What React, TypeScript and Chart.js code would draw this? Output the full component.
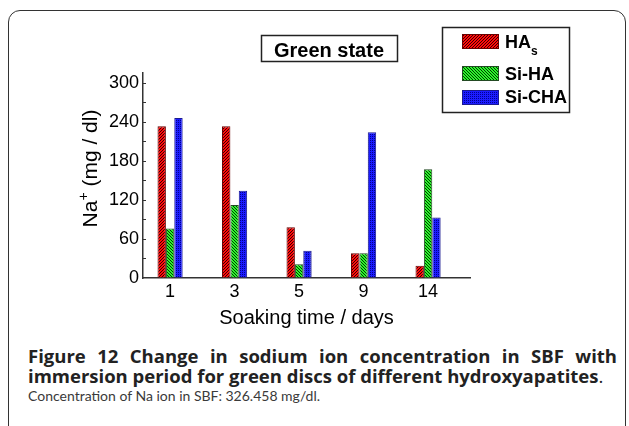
import React, { useEffect, useRef } from "react";
import { Chart, registerables } from "chart.js";

Chart.register(...registerables);

// ---- data ----
const dayLabels = ["1", "3", "5", "9", "14"];
const seriesNames = ["HA", "Si-HA", "Si-CHA"];
const seriesSubscripts = ["s", "", ""];
const haSValues = [233, 233, 78, 38, 19];
const siHAValues = [76, 112, 21, 38, 167];
const siCHAValues = [246, 134, 42, 224, 93];
const yTickValues = [0, 60, 120, 180, 240, 300];
const yMinorStep = 30;
const chartTitle = "Green state";
const yTitleMain = "Na";
const yTitleSup = "+";
const yTitleRest = " (mg / dl)";
const xTitle = "Soaking time / days";

const FONT = "Arial, 'Liberation Sans', 'DejaVu Sans', sans-serif";

function makePattern(bg: string, fg: string, kind: "slash" | "backslash" | "dots") {
  const c = document.createElement("canvas");
  const n = kind === "dots" ? 2 : 3;
  c.width = n;
  c.height = n;
  const g = c.getContext("2d")!;
  g.fillStyle = bg;
  g.fillRect(0, 0, n, n);
  g.fillStyle = fg;
  for (let x = 0; x < n; x++) {
    for (let y = 0; y < n; y++) {
      let on = false;
      if (kind === "slash") on = (x + y) % 3 === 0;
      else if (kind === "backslash") on = (x - y + 3) % 3 === 0;
      else on = x % 2 === 0 && y % 2 === 0;
      if (on) g.fillRect(x, y, 1, 1);
    }
  }
  const ctx = document.createElement("canvas").getContext("2d")!;
  return ctx.createPattern(c, "repeat")!;
}

const decorPlugin = {
  id: "decor",
  afterDraw(chart: any) {
    const ctx = chart.ctx as CanvasRenderingContext2D;
    const yScale = chart.scales.y;
    const area = chart.chartArea;
    ctx.save();

    // inward minor ticks on y axis
    ctx.strokeStyle = "#333";
    ctx.lineWidth = 1;
    for (let v = yMinorStep; v <= yTickValues[yTickValues.length - 1]; v += yMinorStep) {
      const py = Math.round(yScale.getPixelForValue(v)) + 0.5;
      ctx.beginPath();
      ctx.moveTo(area.left, py);
      ctx.lineTo(area.left + 3, py);
      ctx.stroke();
    }

    // y axis title with superscript
    ctx.fillStyle = "#000";
    ctx.translate(96.5, 168.5);
    ctx.rotate(-Math.PI / 2);
    ctx.textBaseline = "alphabetic";
    ctx.font = `21px ${FONT}`;
    const wMain = ctx.measureText(yTitleMain).width;
    ctx.font = `14px ${FONT}`;
    const wSup = ctx.measureText(yTitleSup).width;
    ctx.font = `21px ${FONT}`;
    const wRest = ctx.measureText(yTitleRest).width;
    const x0 = -(wMain + wSup + wRest) / 2;
    ctx.textAlign = "left";
    ctx.fillText(yTitleMain, x0, 0);
    ctx.font = `14px ${FONT}`;
    ctx.fillText(yTitleSup, x0 + wMain, -9);
    ctx.font = `21px ${FONT}`;
    ctx.fillText(yTitleRest, x0 + wMain + wSup, 0);
    ctx.setTransform(1, 0, 0, 1, 0, 0);

    // title box
    ctx.strokeStyle = "#222";
    ctx.lineWidth = 1.5;
    ctx.strokeRect(261.5, 35.5, 136, 26);
    ctx.font = `bold 20px ${FONT}`;
    ctx.textAlign = "center";
    ctx.fillStyle = "#000";
    ctx.fillText(chartTitle, 329, 56.5);

    // legend box
    ctx.strokeRect(442.5, 27.5, 127, 85);
    const swatchTops = [34, 66, 90];
    const baselines = [48, 80, 103];
    chart.data.datasets.forEach((ds: any, i: number) => {
      ctx.fillStyle = ds.backgroundColor;
      ctx.fillRect(462, swatchTops[i], 37, 15);
      ctx.strokeStyle = ds.borderColor;
      ctx.lineWidth = 1;
      ctx.strokeRect(462.5, swatchTops[i] + 0.5, 36, 14);
      ctx.fillStyle = "#000";
      ctx.textAlign = "left";
      ctx.font = `bold 18px ${FONT}`;
      ctx.fillText(seriesNames[i], 505, baselines[i]);
      if (seriesSubscripts[i]) {
        const w = ctx.measureText(seriesNames[i]).width;
        ctx.font = `bold 12px ${FONT}`;
        ctx.fillText(seriesSubscripts[i], 505 + w, baselines[i] + 7);
      }
    });
    ctx.restore();
  },
};

export default function App() {
  const ref = useRef<HTMLCanvasElement>(null);

  useEffect(() => {
    if (!ref.current) return;
    const toPoints = (arr: number[]) => arr.map((v, i) => ({ x: i, y: v }));
    const chart = new Chart(ref.current, {
      type: "bar",
      data: {
        datasets: [
          {
            label: seriesNames[0] + seriesSubscripts[0],
            data: toPoints(haSValues),
            backgroundColor: makePattern("#ff0a0a", "#3a0000", "slash") as any,
            borderColor: "#6a0000",
            borderWidth: 1,
          },
          {
            label: seriesNames[1],
            data: toPoints(siHAValues),
            backgroundColor: makePattern("#2cf52c", "#003a00", "backslash") as any,
            borderColor: "#234a23",
            borderWidth: 1,
          },
          {
            label: seriesNames[2],
            data: toPoints(siCHAValues),
            backgroundColor: makePattern("#1c1cff", "#000090", "dots") as any,
            borderColor: "#1a1a90",
            borderWidth: 1,
          },
        ],
      },
      options: {
        responsive: false,
        animation: false,
        devicePixelRatio: 1,
        categoryPercentage: 0.39,
        barPercentage: 1,
        layout: { padding: { top: 73, right: 159, left: 0, bottom: 0 } },
        plugins: {
          legend: { display: false },
          title: { display: false },
          tooltip: { enabled: false },
        },
        scales: {
          x: {
            type: "linear",
            min: -0.42,
            max: 4.65,
            offset: false,
            grid: { drawOnChartArea: false, drawTicks: false },
            border: { display: true, color: "#333", width: 1.5 },
            afterBuildTicks: (scale: any) => {
              scale.ticks = dayLabels.map((_, i) => ({ value: i }));
            },
            afterFit: (scale: any) => {
              scale.height = 57;
            },
            ticks: {
              padding: 3,
              color: "#000",
              font: { family: FONT, size: 18 },
              maxRotation: 0,
              autoSkip: false,
              callback: (v: any) => dayLabels[v as number] ?? "",
            },
            title: {
              display: true,
              text: xTitle,
              color: "#000",
              font: { family: FONT, size: 20 },
              padding: { top: 0, bottom: 5 },
            },
          },
          y: {
            min: 0,
            max: 315,
            grid: { drawOnChartArea: false, drawTicks: false },
            border: { display: true, color: "#333", width: 1.5 },
            afterBuildTicks: (scale: any) => {
              scale.ticks = yTickValues.map((v) => ({ value: v }));
            },
            afterFit: (scale: any) => {
              scale.width = 143;
            },
            ticks: {
              padding: 4,
              color: "#000",
              font: { family: FONT, size: 18 },
            },
          },
        },
      },
      plugins: [decorPlugin],
    } as any);
    return () => chart.destroy();
  }, []);

  const capFont = "'Open Sans', 'Noto Sans', sans-serif";
  return (
    <div
      style={{
        position: "fixed",
        left: 0,
        top: 0,
        width: 629,
        height: 426,
        overflow: "hidden",
        background: "#fff",
      }}
    >
      <div
        style={{
          position: "absolute",
          left: 8,
          top: 10,
          width: 618,
          height: 440,
          border: "1.5px solid #333",
          borderRadius: 12,
          boxSizing: "border-box",
        }}
      />
      <canvas
        ref={ref}
        width={629}
        height={335}
        style={{ position: "absolute", left: 0, top: 0, width: 629, height: 335 }}
      />
      <div
        style={{
          position: "absolute",
          left: 28,
          top: 346,
          width: 589,
          fontFamily: capFont,
          color: "#222",
        }}
      >
        <div
          style={{
            fontWeight: 700,
            fontSize: 18.5,
            lineHeight: "19.5px",
            height: 19.5,
            textAlign: "justify",
            textAlignLast: "justify" as any,
            whiteSpace: "nowrap",
          }}
        >
          Figure 12 Change in sodium ion concentration in SBF with
        </div>
        <div style={{ whiteSpace: "nowrap", fontSize: 18.5, lineHeight: "19.5px", height: 19.5 }}>
          <span style={{ fontWeight: 700 }}>immersion period for green discs of different hydroxyapatites</span>
          <span>.</span>
        </div>
        <div
          style={{
            whiteSpace: "nowrap",
            color: "#3a3a3a",
            fontFamily: "Lato, 'Open Sans', sans-serif",
            fontSize: 14,
            lineHeight: "19.5px",
            height: 19.5,
            marginTop: 1,
          }}
        >
          Concentration of Na ion in SBF: 326.458 mg/dl.
        </div>
      </div>
    </div>
  );
}
